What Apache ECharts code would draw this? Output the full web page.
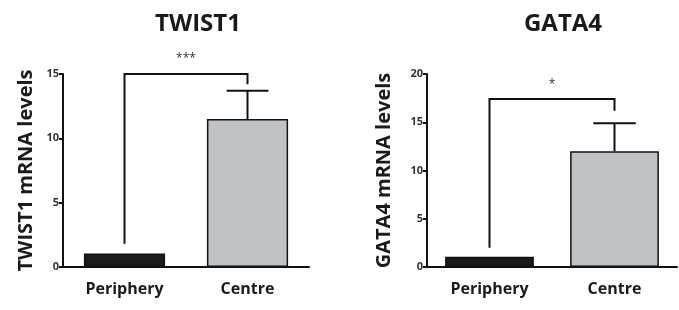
<!DOCTYPE html>
<html>
<head>
<meta charset="utf-8">
<script src="https://cdn.jsdelivr.net/npm/echarts@6/dist/echarts.min.js"></script>
<style>
  html, body { margin: 0; padding: 0; background: #fff; }
  #chart { width: 679px; height: 310px; }
</style>
</head>
<body>
<div id="chart"></div>
<script>
// data
var categories = ['Periphery', 'Centre'];

var twistMean = [1.05, 11.5];
var twistErrTop = [null, 13.7];
var twistBracket = [1.8, 14.2, 15.0];   // left leg bottom, right leg bottom, bar height
var twistSig = '***';

var gataMean = [1.05, 12.0];
var gataErrTop = [null, 14.9];
var gataBracket = [2.0, 16.2, 17.4];
var gataSig = '*';

var barColors = ['#1a1a1a', '#c1c2c5'];
var FONT = 'Open Sans';

window.onload = function () {
    var myChart = echarts.init(document.getElementById('chart'));

    function barData(means) {
        return means.map(function (v, i) {
            return { value: v, itemStyle: { color: barColors[i], borderColor: '#111', borderWidth: 1.5 } };
        });
    }

    function errData(means, tops) {
        var out = [];
        for (var i = 0; i < means.length; i++) {
            if (tops[i] != null) out.push([i, means[i], tops[i]]);
        }
        return out;
    }

    // upward error bar with a cap
    function renderErr(params, api) {
        var base = api.coord([api.value(0), api.value(1)]);
        var top = api.coord([api.value(0), api.value(2)]);
        var half = api.size([1, 0])[0] * 0.17;
        var st = { stroke: '#111', lineWidth: 2 };
        return {
            type: 'group',
            children: [
                { type: 'line', shape: { x1: base[0], y1: base[1], x2: top[0], y2: top[1] }, style: st },
                { type: 'line', shape: { x1: top[0] - half, y1: top[1], x2: top[0] + half, y2: top[1] }, style: st }
            ]
        };
    }

    // significance bracket between the two categories
    function makeBracket(sig) {
        return function (params, api) {
            var l0 = api.coord([0, api.value(0)]);
            var r0 = api.coord([1, api.value(1)]);
            var lt = api.coord([0, api.value(2)]);
            var rt = api.coord([1, api.value(2)]);
            return {
                type: 'group',
                children: [
                    { type: 'polyline', shape: { points: [l0, lt, rt, r0] }, style: { stroke: '#111', lineWidth: 2, fill: null } },
                    { type: 'text', x: (lt[0] + rt[0]) / 2, y: lt[1] - 9,
                      style: { text: sig, fontSize: 12, fontFamily: FONT, fill: '#333', align: 'center', verticalAlign: 'bottom' } }
                ]
            };
        };
    }

    function xAxis(idx) {
        return {
            type: 'category', gridIndex: idx, data: categories,
            axisLine: { lineStyle: { color: '#111', width: 2 } },
            axisTick: { alignWithLabel: true, length: 5, lineStyle: { color: '#111', width: 2 } },
            axisLabel: { fontFamily: FONT, fontWeight: 'bold', fontSize: 16, color: '#1a1a1a', margin: 14 }
        };
    }

    function yAxis(idx, max, name, gap) {
        return {
            type: 'value', gridIndex: idx, min: 0, max: max, interval: 5,
            name: name, nameLocation: 'middle', nameGap: gap,
            nameTextStyle: { fontFamily: FONT, fontWeight: 'bold', fontSize: 20, color: '#1a1a1a' },
            axisLine: { show: true, lineStyle: { color: '#111', width: 2 } },
            axisTick: { show: true, length: 4, lineStyle: { color: '#111', width: 2 } },
            axisLabel: { fontFamily: FONT, fontWeight: 'bold', fontSize: 11, color: '#333', margin: 4 },
            splitLine: { show: false }
        };
    }

    var option = {
        animation: false,
        title: [
            { text: 'TWIST1', left: 193, top: 7, textAlign: 'center',
              textStyle: { fontFamily: FONT, fontWeight: 'bold', fontSize: 24, color: '#1a1a1a' } },
            { text: 'GATA4', left: 558, top: 7, textAlign: 'center',
              textStyle: { fontFamily: FONT, fontWeight: 'bold', fontSize: 24, color: '#1a1a1a' } }
        ],
        grid: [
            { left: 63, top: 74, width: 246, bottom: 43 },
            { left: 427, top: 74, width: 250, bottom: 43 }
        ],
        xAxis: [xAxis(0), xAxis(1)],
        yAxis: [
            yAxis(0, 15, 'TWIST1 mRNA levels', 27),
            yAxis(1, 20, 'GATA4 mRNA levels', 33)
        ],
        series: [
            { type: 'bar', xAxisIndex: 0, yAxisIndex: 0, barWidth: '66%', data: barData(twistMean) },
            { type: 'custom', xAxisIndex: 0, yAxisIndex: 0, renderItem: renderErr, data: errData(twistMean, twistErrTop), z: 3 },
            { type: 'custom', xAxisIndex: 0, yAxisIndex: 0, renderItem: makeBracket(twistSig), data: [twistBracket], z: 3 },
            { type: 'bar', xAxisIndex: 1, yAxisIndex: 1, barWidth: '71%', data: barData(gataMean) },
            { type: 'custom', xAxisIndex: 1, yAxisIndex: 1, renderItem: renderErr, data: errData(gataMean, gataErrTop), z: 3 },
            { type: 'custom', xAxisIndex: 1, yAxisIndex: 1, renderItem: makeBracket(gataSig), data: [gataBracket], z: 3 }
        ]
    };
    myChart.setOption(option);
};
</script>
</body>
</html>
